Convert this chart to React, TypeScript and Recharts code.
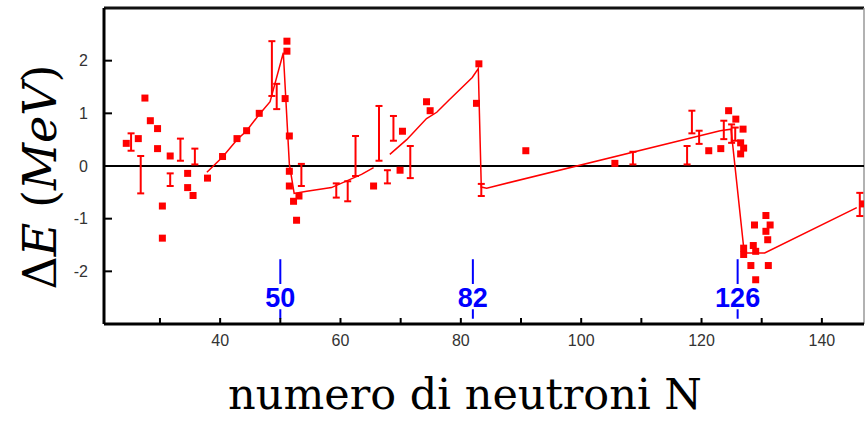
import React from "react";
import {
  ComposedChart,
  XAxis,
  YAxis,
  Line,
  Scatter,
  ErrorBar,
  ReferenceLine,
} from "recharts";

// measured points (squares)
const pointN = [
  24.4, 26.4, 27.5, 28.4, 29.6, 29.6, 31.7, 30.4, 30.4, 34.6, 34.6, 35.5, 37.9,
  40.4, 42.8, 44.4, 46.5, 50.8, 51.1, 51.1, 51.5, 51.5, 51.5, 53.1, 52.2, 52.7,
  65.5, 69.9, 70.3, 74.3, 74.9, 83.0, 82.6, 90.8, 105.6, 121.2, 123.2, 124.5,
  125.7, 126.9, 126.5, 127.0, 126.5, 130.7, 128.8, 131.4, 130.7, 131.0, 127.0,
  127.0, 128.6, 129.0, 128.2, 131.1, 129.0, 146.9,
];
const pointE = [
  0.43, 0.52, 1.29, 0.86, 0.71, 0.33, 0.19, -0.76, -1.37, -0.14, -0.41, -0.56,
  -0.23, 0.18, 0.52, 0.67, 1.0, 1.28, 2.37, 2.18, 0.57, -0.1, -0.38, -0.57,
  -0.67, -1.03, -0.38, -0.08, 0.66, 1.22, 1.05, 1.94, 1.19, 0.29, 0.05, 0.29,
  0.33, 1.05, 0.89, 0.7, 0.44, 0.34, 0.23, -0.94, -1.12, -1.12, -1.24, -1.4,
  -1.56, -1.68, -1.51, -1.62, -1.89, -1.89, -2.16, -0.72,
];

// measured ranges (error bars)
const rangeN = [
  25.2, 26.8, 31.7, 33.4, 35.8, 48.6, 49.4, 53.5, 59.3, 61.2, 62.5, 66.4, 67.8,
  68.8, 71.6, 83.4, 108.6, 117.6, 118.4, 119.6, 123.7, 125.0, 125.6, 146.3,
];
const rangeLow = [
  0.29, -0.52, -0.38, 0.1, 0.03, 1.33, 1.08, -0.38, -0.6, -0.67, -0.19, 0.1,
  -0.33, 0.48, -0.23, -0.57, 0.03, 0.03, 0.62, 0.42, 0.51, 0.44, 0.48, -0.95,
];
const rangeHigh = [
  0.62, 0.19, -0.14, 0.52, 0.33, 2.37, 1.56, 0.04, -0.33, -0.29, 0.57, 1.14,
  -0.08, 0.95, 0.38, -0.34, 0.27, 0.38, 1.05, 0.67, 0.86, 0.79, 0.73, -0.51,
];

// model curves
const curveAN = [37.8, 40.4, 42.8, 44.4, 46.5, 48.3, 50.5, 51.5, 52.3, 54.4, 58.5, 63.5, 65.5];
const curveAE = [-0.12, 0.17, 0.5, 0.67, 0.98, 1.22, 2.15, 0.04, -0.52, -0.48, -0.41, -0.16, -0.03];
const curveBN = [68.2, 71, 74.3, 76, 78, 81.9, 82.9, 83.4, 84.3, 123.1, 124.9, 127.1, 130.5, 145.8];
const curveBE = [0.22, 0.5, 0.9, 1.02, 1.25, 1.68, 1.85, -0.4, -0.42, 0.67, 0.7, -1.65, -1.65, -0.79];

const magicNumbers = [50, 82, 126];
const xTicks = [30, 40, 50, 60, 70, 80, 90, 100, 110, 120, 130, 140];
const yTicks = [-2, -1, 0, 1, 2];

const points = pointN.map((n, i) => ({ n, e: pointE[i] }));
const ranges = rangeN.map((n, i) => ({
  n,
  e: (rangeLow[i] + rangeHigh[i]) / 2,
  err: (rangeHigh[i] - rangeLow[i]) / 2,
}));
const curveA = curveAN.map((n, i) => ({ n, e: curveAE[i] }));
const curveB = curveBN.map((n, i) => ({ n, e: curveBE[i] }));
const magicLabels = magicNumbers.map((n) => ({ n, e: -2.48 }));

const RED = "#ff0000";
const BLUE = "#0000ff";

const tickStyle = { fontFamily: "Liberation Sans", fontSize: 16, fill: "#333" };

const squareShape = (p: any) => (
  <rect x={p.cx - 3.5} y={p.cy - 3.5} width={7} height={7} fill={RED} />
);

const magicText = (p: any) => (
  <text
    x={p.cx}
    y={p.cy + 10}
    textAnchor="middle"
    fontFamily="Liberation Sans"
    fontWeight="bold"
    fontSize={27}
    fill={BLUE}
  >
    {p.payload.n}
  </text>
);

const XTitle = () => (
  <text x={465} y={409} textAnchor="middle" fontFamily="DejaVu Serif" fontSize={43} fill="#000">
    numero di neutroni N
  </text>
);

const YTitle = () => (
  <text
    x={56}
    y={177}
    transform="rotate(-90 56 177)"
    textAnchor="middle"
    fontFamily="DejaVu Serif"
    fontSize={46}
    fill="#000"
  >
    Δ<tspan fontStyle="italic">E</tspan> (<tspan fontStyle="italic">MeV</tspan>)
  </text>
);

export default function App() {
  return (
    <div style={{ position: "absolute", left: 0, top: 0, background: "#fff" }}>
      <ComposedChart width={867} height={422} margin={{ top: 8, right: 3, bottom: 0, left: 0 }}>
        <XAxis
          dataKey="n"
          type="number"
          domain={[20.7, 147]}
          allowDataOverflow
          ticks={xTicks}
          tickFormatter={(v: number) => (v % 20 === 0 ? String(v) : "")}
          tickSize={-6}
          tickMargin={17}
          tick={tickStyle}
          tickLine={{ stroke: "#000", strokeWidth: 2 }}
          axisLine={{ stroke: "#000", strokeWidth: 3 }}
          height={98}
          label={{ content: () => <XTitle /> }}
        />
        <YAxis
          dataKey="e"
          type="number"
          domain={[-3, 3]}
          allowDataOverflow
          ticks={yTicks}
          tickSize={-8}
          tickMargin={24}
          tick={tickStyle}
          tickLine={{ stroke: "#000", strokeWidth: 2 }}
          axisLine={{ stroke: "#000", strokeWidth: 3 }}
          width={104}
          label={{ content: () => <YTitle /> }}
        />
        <ReferenceLine y={3} stroke="#111" strokeWidth={3} />
        <ReferenceLine x={147} stroke="#999" strokeWidth={1.5} />
        <ReferenceLine y={0} stroke="#000" strokeWidth={2} />
        {magicNumbers.map((n) => (
          <ReferenceLine
            key={"a" + n}
            segment={[
              { x: n, y: -1.77 },
              { x: n, y: -2.24 },
            ]}
            stroke={BLUE}
            strokeWidth={2}
          />
        ))}
        {magicNumbers.map((n) => (
          <ReferenceLine
            key={"b" + n}
            segment={[
              { x: n, y: -2.72 },
              { x: n, y: -2.9 },
            ]}
            stroke={BLUE}
            strokeWidth={2}
          />
        ))}
        <Scatter data={magicLabels} shape={magicText} isAnimationActive={false} />
        <Line
          data={curveA}
          dataKey="e"
          stroke={RED}
          strokeWidth={1.5}
          dot={false}
          isAnimationActive={false}
        />
        <Line
          data={curveB}
          dataKey="e"
          stroke={RED}
          strokeWidth={1.5}
          dot={false}
          isAnimationActive={false}
        />
        <Scatter data={ranges} shape={() => <g />} isAnimationActive={false}>
          <ErrorBar dataKey="err" direction="y" width={3.5} stroke={RED} strokeWidth={2} />
        </Scatter>
        <Scatter data={points} shape={squareShape} isAnimationActive={false} />
      </ComposedChart>
    </div>
  );
}
